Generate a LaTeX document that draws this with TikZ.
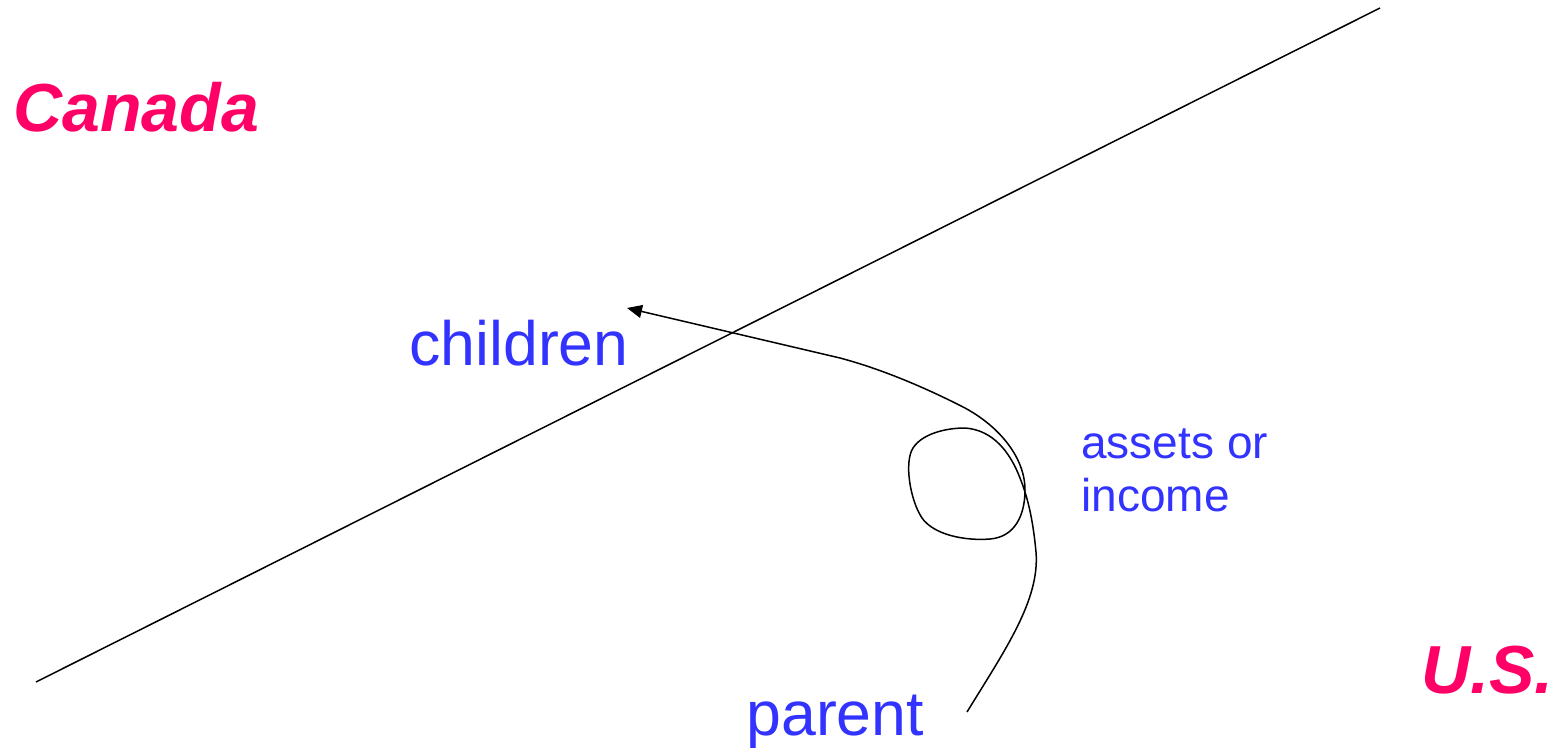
\documentclass[tikz,border=0pt]{standalone}
\usepackage{fontspec}
\setmainfont{Liberation Sans}
\usetikzlibrary{arrows.meta}
\definecolor{lblblue}{HTML}{3333FF}
\definecolor{cpink}{HTML}{FF0066}
\begin{document}
\begin{tikzpicture}[x=0.5pt,y=-0.5pt,
  country/.style={inner sep=0pt,anchor=base west,text=cpink,font=\fontsize{34}{40}\selectfont\bfseries\itshape},
  person/.style={inner sep=0pt,anchor=base west,text=lblblue,font=\fontsize{31.3}{37}\selectfont},
  flowlbl/.style={inner sep=0pt,anchor=base west,text=lblblue,align=left,font=\fontsize{23}{26.5}\selectfont},
  border/.style={line width=0.75pt},
  flow/.style={line width=0.75pt,-{Triangle[length=7.5pt,width=6.5pt]}}]
\useasboundingbox (0,0) rectangle (1555,749);
\node[country] (canada) at (13,132) {Canada};
\node[country] (us) at (1421,693) {U.S.};
\node[person] (children) at (409,365) {children};
\node[person] (parent) at (746,735) {parent};
\node[flowlbl] (assets) at (1081,511) {assets or\\income};
\coordinate (b1) at (36,682);
\coordinate (b2) at (1380,8);
\draw[border] (b1) -- (b2);
\coordinate (fstart) at (967,712);
\coordinate (fend) at (627,308);
\draw[flow] (fstart)
  .. controls (1005,650) and (1040,600) .. (1036,552)
  .. controls (1033,520) and (1028,498) .. (1020,478)
  .. controls (1010,452) and (993,430) .. (965,428)
  .. controls (945,428) and (922,434) .. (913,448)
  .. controls (904,462) and (910,500) .. (922,518)
  .. controls (934,535) and (965,541) .. (990,539)
  .. controls (1015,537) and (1025,515) .. (1025,490)
  .. controls (1025,458) and (1000,427) .. (965,408)
  .. controls (930,390) and (885,370) .. (840,358)
  -- (fend);
\end{tikzpicture}
\end{document}
